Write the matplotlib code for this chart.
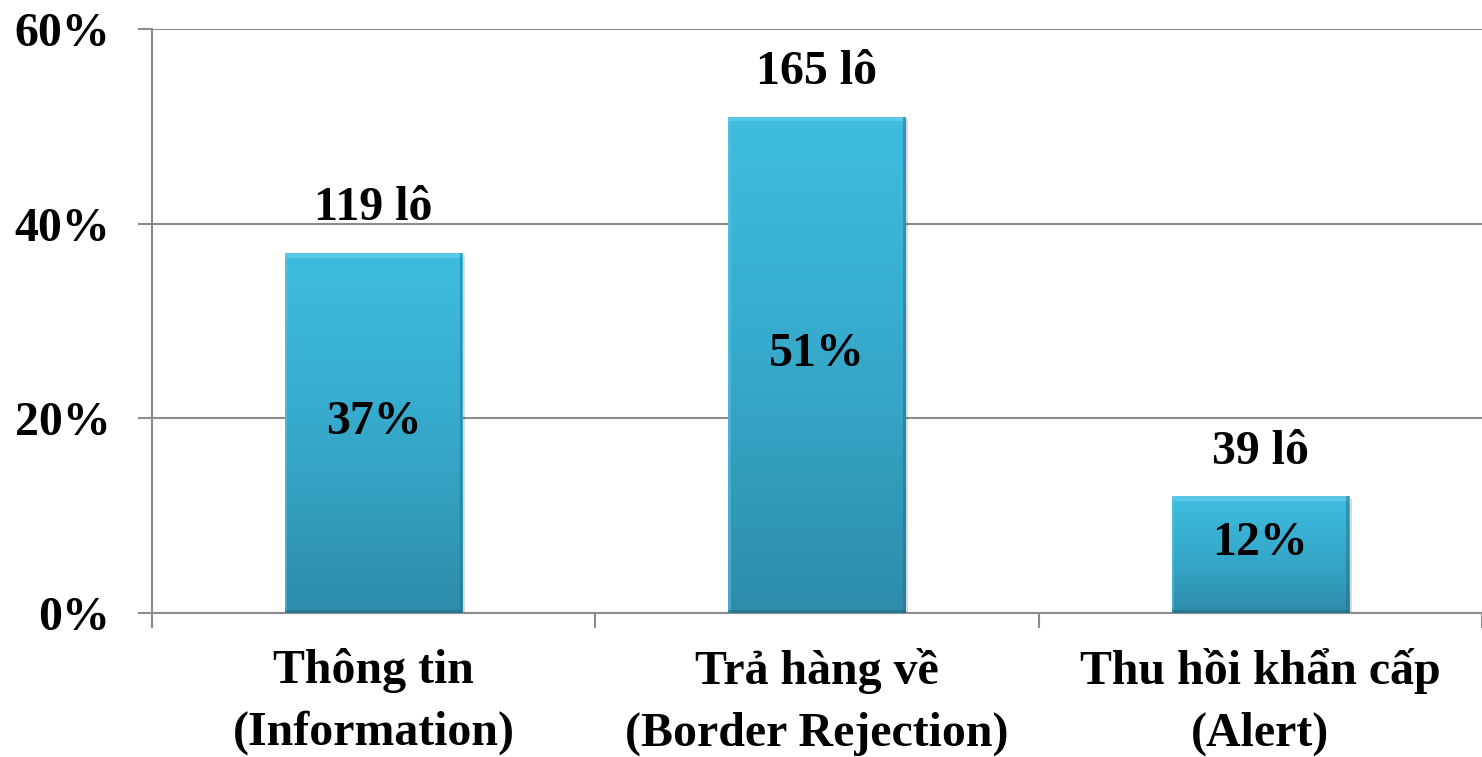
import numpy as np
import matplotlib.pyplot as plt
from matplotlib.colors import LinearSegmentedColormap
from matplotlib.patches import Rectangle

categories = ["Thông tin\n(Information)", "Trả hàng về\n(Border Rejection)", "Thu hồi khẩn cấp\n(Alert)"]
percents = [37, 51, 12]
lots = [119, 165, 39]
yticks = [0, 20, 40, 60]

plt.rcParams['font.family'] = ['Liberation Serif', 'DejaVu Serif']
plt.rcParams['font.weight'] = 'bold'
FS = 34.5

fig = plt.figure(figsize=(14.82, 7.57), dpi=100)
ax = fig.add_axes([152 / 1482, (757 - 613) / 757, (1482 - 152) / 1482, 584 / 757])

x = np.arange(len(categories))
bars = ax.bar(x, percents, width=0.4, color='#38afd2', zorder=3)

# vertical gradient inside each bar, light on top
cmap = LinearSegmentedColormap.from_list('teal', ['#2e8caa', '#36a9cb', '#3ebde0'])
grad = np.linspace(0, 1, 256).reshape(-1, 1)
for b in bars:
    bx, by, bw, bh = b.get_x(), b.get_y(), b.get_width(), b.get_height()
    # soft drop shadow
    ax.add_patch(Rectangle((bx + 0.006, by - 0.25), bw, bh, color='#000000', alpha=0.15,
                           zorder=2, lw=0))
    im = ax.imshow(grad, extent=[bx, bx + bw, by, by + bh], origin='lower',
                   cmap=cmap, aspect='auto', zorder=3.5)
    im.set_clip_path(b)
    # bevel edges
    ax.add_patch(Rectangle((bx, by + bh - 0.5), bw, 0.5, color='#7ad8f0', alpha=0.45,
                           zorder=4, lw=0))
    ax.add_patch(Rectangle((bx, by), 0.005, bh, color='#5cc6e4', alpha=0.5, zorder=4, lw=0))
    ax.add_patch(Rectangle((bx + bw - 0.006, by), 0.006, bh, color='#236f87', alpha=0.5,
                           zorder=4, lw=0))
    ax.add_patch(Rectangle((bx, by), bw, 0.3, color='#1f6377', alpha=0.45, zorder=4, lw=0))

for xi, p, n in zip(x, percents, lots):
    ax.annotate(f"{n} lô", (xi, p), xytext=(0, 32), textcoords='offset points',
                ha='center', va='center', fontsize=FS, fontweight='bold')
    ax.annotate(f"{p}%", (xi, p / 2), xytext=(0, 8), textcoords='offset points',
                ha='center', va='center', fontsize=FS, fontweight='bold', zorder=5)

ax.set_xlim(-0.5, 2.5)
ax.set_ylim(0, 60)
ax.set_yticks(yticks)
ax.set_yticklabels([f"{t}%" for t in yticks], fontsize=FS, fontweight='bold')
ax.yaxis.grid(True, color='#8c8c8c', lw=1.5, zorder=0)
ax.tick_params(axis='y', length=10, width=1.5, color='#8c8c8c', pad=20)

ax.set_xticks(x)
ax.set_xticklabels(categories, fontsize=FS, fontweight='bold', linespacing=1.52)
ax.set_xticks([-0.5, 0.5, 1.5, 2.5], minor=True)
ax.tick_params(axis='x', which='major', length=0, pad=25)
ax.tick_params(axis='x', which='minor', length=11, width=1.5, color='#8c8c8c')

for s in ['top', 'right']:
    ax.spines[s].set_visible(False)
for s in ['left', 'bottom']:
    ax.spines[s].set_color('#8c8c8c')
    ax.spines[s].set_linewidth(1.5)

fig.savefig('out.png', dpi=100)
